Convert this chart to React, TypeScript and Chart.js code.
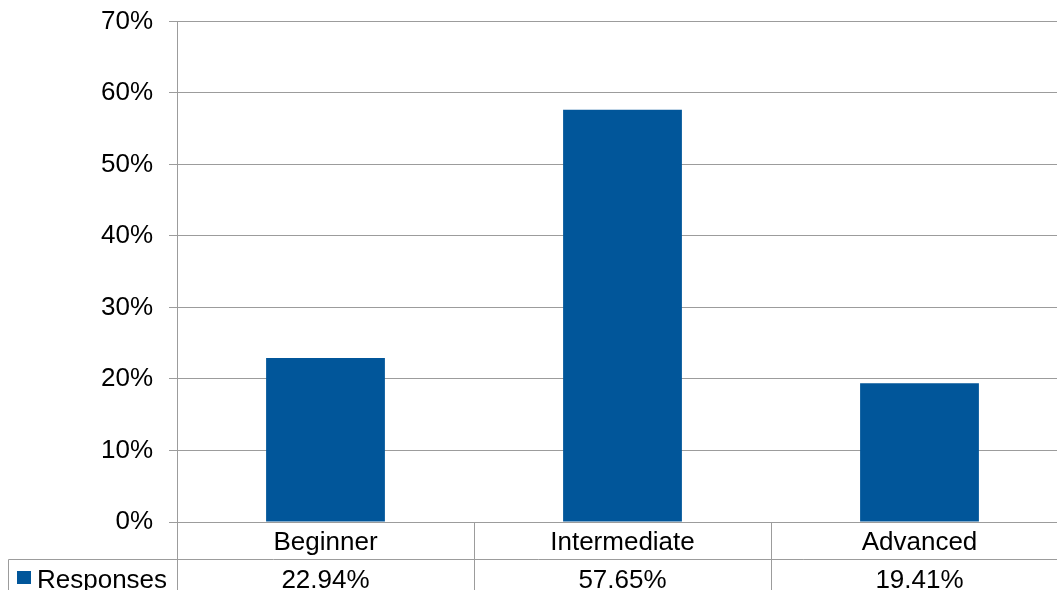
import React, { useEffect, useRef } from "react";
import { Chart, registerables } from "chart.js";

Chart.register(...registerables);

const categories = ["Beginner", "Intermediate", "Advanced"];
const responses = [22.94, 57.65, 19.41];
const valueLabels = ["22.94%", "57.65%", "19.41%"];
const seriesName = "Responses";
const yTicks = [0, 10, 20, 30, 40, 50, 60, 70];

const BAR = "#01569A";
const GRID = "#9C9C9C";
const FONT = "Liberation Sans, Arial, sans-serif";

const W = 1068;
const H = 600;

const tablePlugin = {
  id: "dataTable",
  afterDraw(chart: any) {
    const ctx = chart.ctx;
    const ca = chart.chartArea;
    const x = chart.scales.x;
    const n = categories.length;
    const catW = (ca.right - ca.left) / n;
    const row1Top = ca.bottom;
    const row2Top = ca.bottom + 37;
    const bottom = chart.height;
    ctx.save();
    ctx.strokeStyle = GRID;
    ctx.lineWidth = 1;
    ctx.beginPath();
    for (let i = 0; i <= n; i++) {
      const px = Math.round(ca.left + i * catW) + 0.5;
      ctx.moveTo(px, row1Top);
      ctx.lineTo(px, bottom);
    }
    ctx.moveTo(8.5, row2Top + 0.5);
    ctx.lineTo(ca.right, row2Top + 0.5);
    ctx.moveTo(8.5, row2Top + 0.5);
    ctx.lineTo(8.5, bottom);
    ctx.stroke();

    ctx.fillStyle = "#000";
    ctx.font = `26px ${FONT}`;
    ctx.textAlign = "center";
    ctx.textBaseline = "alphabetic";
    for (let i = 0; i < n; i++) {
      const cx = x.getPixelForValue(i);
      ctx.fillText(categories[i], cx, row1Top + 28);
      ctx.fillText(valueLabels[i], cx, row2Top + 29);
    }
    ctx.fillStyle = BAR;
    ctx.fillRect(17, row2Top + 12, 14, 13);
    ctx.fillStyle = "#000";
    ctx.textAlign = "left";
    ctx.fillText(seriesName, 37, row2Top + 29);
    ctx.restore();
  },
};

export default function App() {
  const ref = useRef<HTMLCanvasElement>(null);
  useEffect(() => {
    if (!ref.current) return;
    const chart = new Chart(ref.current, {
      type: "bar",
      data: {
        labels: categories,
        datasets: [
          {
            label: seriesName,
            data: responses,
            backgroundColor: BAR,
            borderWidth: 0,
            barPercentage: 0.4,
            categoryPercentage: 1,
          },
        ],
      },
      options: {
        responsive: false,
        animation: false,
        devicePixelRatio: 1,
        layout: { padding: { top: 0, right: 0, bottom: 0, left: 0 } },
        plugins: { legend: { display: false }, tooltip: { enabled: false } },
        scales: {
          x: {
            ticks: { display: false },
            grid: { display: false },
            border: { display: false },
            afterFit: (s: any) => {
              s.height = H - 522;
            },
          },
          y: {
            min: 0,
            max: 70,
            afterBuildTicks: (s: any) => {
              s.ticks = yTicks.map((v) => ({ value: v }));
            },
            ticks: {
              stepSize: 10,
              padding: 16,
              color: "#000",
              font: { family: FONT, size: 26, lineHeight: 0.42 },
              callback: (v: any) => `${v}%`,
            },
            grid: { color: GRID, lineWidth: 1, tickLength: 8, drawTicks: true },
            border: { display: true, color: GRID, width: 1 },
            afterFit: (s: any) => {
              s.width = 177;
            },
          },
        },
      },
      plugins: [tablePlugin],
    });
    return () => chart.destroy();
  }, []);
  return (
    <div
      style={{
        position: "fixed",
        left: 0,
        top: 0,
        width: 1057,
        height: 590,
        overflow: "hidden",
        background: "#fff",
      }}
    >
      <canvas ref={ref} width={W} height={H} style={{ width: W, height: H, display: "block" }} />
    </div>
  );
}
